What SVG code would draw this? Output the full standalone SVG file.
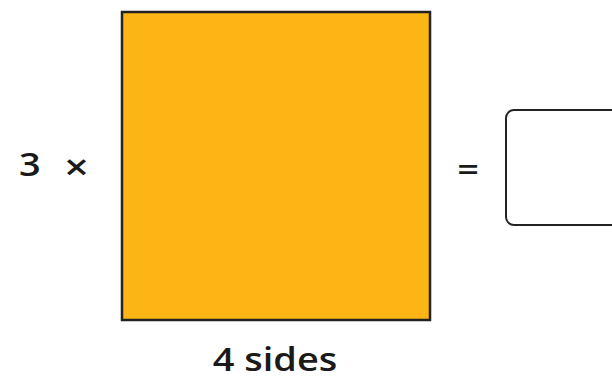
<svg xmlns="http://www.w3.org/2000/svg" width="612" height="383" viewBox="0 0 612 383">
<style>
.t{font-family:"Open Sans","Noto Sans","Liberation Sans",sans-serif;font-size:33px;font-weight:600;fill:#1a1a1a}
</style>
<rect width="612" height="383" fill="#ffffff"/>
<g id="square">
<rect x="122" y="12" width="308" height="308" fill="#fdb516" stroke="#222" stroke-width="2.5"/>
</g>
<g id="answer-box">
<rect x="506" y="110" width="120" height="115" rx="8" fill="#fff" stroke="#222" stroke-width="2"/>
</g>
<text class="t" transform="translate(19,176) scale(1.15,1)">3</text>
<text class="t" text-anchor="middle" transform="translate(76.5,180) scale(1.3,1.1)">×</text>
<text class="t" text-anchor="middle" transform="translate(468,181) scale(1.15,1)">=</text>
<text class="t" text-anchor="middle" transform="translate(275,371) scale(1.15,1)">4 sides</text>
</svg>
